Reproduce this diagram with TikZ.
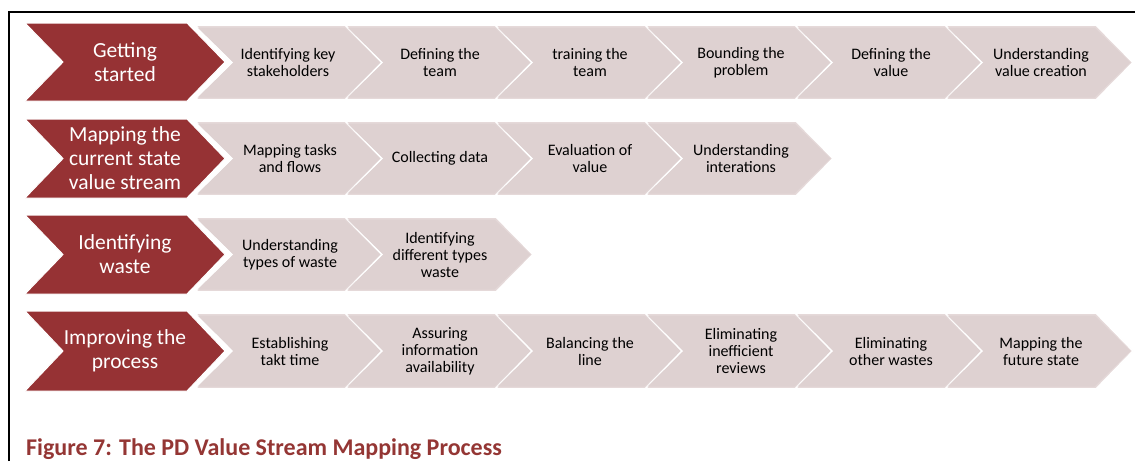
\documentclass[tikz,border=0pt]{standalone}
\usepackage{fontspec}
\setmainfont{Carlito}
\definecolor{redc}{HTML}{963234}
\definecolor{grayc}{HTML}{DED1D1}
\definecolor{grayin}{HTML}{E5D9D9}
\definecolor{capc}{HTML}{943634}
% chevron path: x0, ytop, ybot, width, depth
\newcommand{\chevp}[5]{({#1},{#2}) -- ({#1+#4-#5},{#2}) -- ({#1+#4},{(#2+#3)/2}) -- ({#1+#4-#5},{#3}) -- ({#1},{#3}) -- ({#1+#5},{(#2+#3)/2}) -- cycle}
\newcommand{\graychev}[3]{%
  \filldraw[fill=grayin,draw=white,line width=1.6pt] \chevp{#1}{#2}{#3}{188}{37};
  \fill[grayc] \chevp{#1+2.5}{#2+2.5}{#3-2.5}{183}{36};
}
\newcommand{\redchev}[2]{%
  \filldraw[fill=redc,draw=white,line width=1pt] \chevp{25}{#1}{#2}{200}{38};
}
\tikzset{
  gtext/.style={align=center,font=\fontsize{16}{17}\selectfont,text=black,inner sep=0pt},
  rtext/.style={align=center,font=\fontsize{21.5}{24}\selectfont,text=white,inner sep=0pt},
  frame/.style={line width=2.2pt,black}
}
\begin{document}
\begin{tikzpicture}[x=1pt,y=-1pt]
\useasboundingbox (0,0) rectangle (1135,461);
% frame
\draw[frame] (9,461) -- (9,12) -- (1136,12);
% row 1
\graychev{195}{25}{100}
\graychev{345}{25}{100}
\graychev{495}{25}{100}
\graychev{645}{25}{100}
\graychev{795}{25}{100}
\graychev{945}{25}{100}
\redchev{23}{101}
\node[rtext] (r1) at (125,62) {Getting\\started};
\node[gtext] (g11) at (288,62.5) {Identifying key\\stakeholders};
\node[gtext] (g12) at (440,62.5) {Defining the\\team};
\node[gtext] (g13) at (590,62.5) {training the\\team};
\node[gtext] (g14) at (741,62.5) {Bounding the\\problem};
\node[gtext] (g15) at (891,62.5) {Defining the\\value};
\node[gtext] (g16) at (1041,62.5) {Understanding\\value creation};
% row 2
\graychev{195}{121}{196}
\graychev{345}{121}{196}
\graychev{495}{121}{196}
\graychev{645}{121}{196}
\redchev{119}{198}
\node[rtext] (r2) at (125,158.5) {Mapping the\\current state\\value stream};
\node[gtext] (g21) at (290,158.5) {Mapping tasks\\and flows};
\node[gtext] (g22) at (440,158.5) {Collecting data};
\node[gtext] (g23) at (590,158.5) {Evaluation of\\value};
\node[gtext] (g24) at (741,158.5) {Understanding\\interations};
% row 3
\graychev{195}{217}{292}
\graychev{345}{217}{292}
\redchev{215}{294}
\node[rtext] (r3) at (125,254.5) {Identifying\\waste};
\node[gtext] (g31) at (290,254.5) {Understanding\\types of waste};
\node[gtext] (g32) at (440,254.5) {Identifying\\different types\\waste};
% row 4
\graychev{195}{313}{389}
\graychev{345}{313}{389}
\graychev{495}{313}{389}
\graychev{645}{313}{389}
\graychev{795}{313}{389}
\graychev{945}{313}{389}
\redchev{311}{391}
\node[rtext] (r4) at (125,351) {Improving the\\process};
\node[gtext] (g41) at (290,351) {Establishing\\takt time};
\node[gtext] (g42) at (440,351) {Assuring\\information\\availability};
\node[gtext] (g43) at (590,351) {Balancing the\\line};
\node[gtext] (g44) at (741,351) {Eliminating\\inefficient\\reviews};
\node[gtext] (g45) at (891,351) {Eliminating\\other wastes};
\node[gtext] (g46) at (1041,351) {Mapping the\\future state};
% caption
\node[anchor=base west,inner sep=0pt,font=\fontsize{24}{28}\selectfont\bfseries,text=capc] (cap) at (26,455) {Figure 7: The PD Value Stream Mapping Process};
\end{tikzpicture}
\end{document}
